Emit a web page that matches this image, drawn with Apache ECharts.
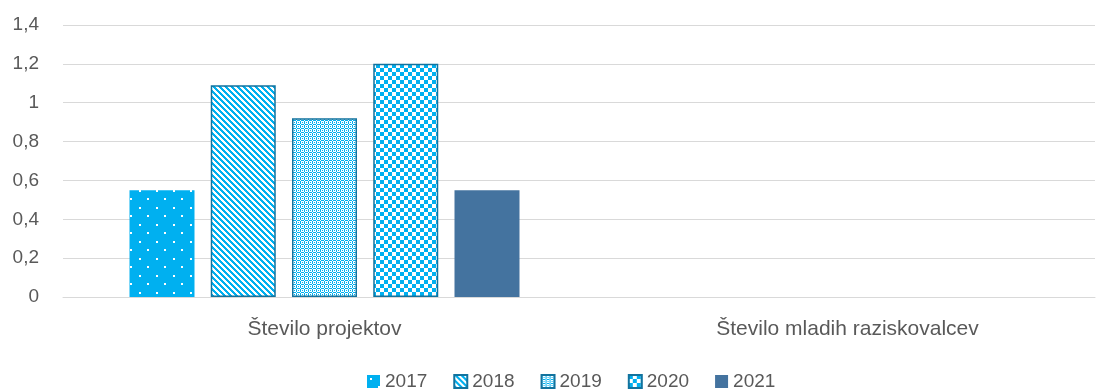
<!DOCTYPE html>
<html><head><meta charset="utf-8">
<script src="https://cdn.jsdelivr.net/npm/echarts@6/dist/echarts.min.js"></script>
<style>html,body{margin:0;padding:0;background:#fff}#c{width:1109px;height:390px}</style>
</head><body><div id="c"></div>
<script>
const categories = ['Število projektov', 'Število mladih raziskovalcev'];
const seriesNames = ['2017', '2018', '2019', '2020', '2021'];
const v2017 = [0.55, null];
const v2018 = [1.09, null];
const v2019 = [0.92, null];
const v2020 = [1.2, null];
const v2021 = [0.55, null];
const yTicks = [0, 0.2, 0.4, 0.6, 0.8, 1, 1.2, 1.4];

const BLUE = '#00B0F0', WHITE = '#ffffff';
function tile(w, h, fn) {
  const c = document.createElement('canvas'); c.width = w; c.height = h;
  const ctx = c.getContext('2d');
  for (let y = 0; y < h; y++) for (let x = 0; x < w; x++) {
    ctx.fillStyle = fn(x, y) ? BLUE : WHITE; ctx.fillRect(x, y, 1, 1);
  }
  return c;
}
const p2017 = (function(){
  const c = document.createElement('canvas'); c.width = 17; c.height = 17;
  const ctx = c.getContext('2d'); ctx.fillStyle = BLUE; ctx.fillRect(0,0,17,17);
  ctx.fillStyle = WHITE; ctx.fillRect(3,3,2,2); ctx.fillRect(11,11,2,2); return c;
})();
const p2018 = tile(6, 6, (x, y) => ((x - y + 12) % 6) < 3);
const p2019 = tile(4, 4, (x, y) => {
  const a = x % 4 === 0, b = y % 4 === 0;
  return (a !== b) || (x === 2 && y === 2);
});
const p2020 = tile(8, 8, (x, y) => ((Math.floor(x / 4) + Math.floor(y / 4)) % 2) === 0);

const pats = [p2017, p2018, p2019, p2020];
const vals = [v2017, v2018, v2019, v2020, v2021];
const series = seriesNames.map((n, i) => ({
  name: n, type: 'bar', data: vals[i], xAxisIndex: 0, yAxisIndex: 0,
  barWidth: 65, barGap: '25%',
  itemStyle: i < 4 ? {
    color: { image: pats[i], repeat: 'repeat' },
    borderColor: i === 0 ? BLUE : '#12739E', borderWidth: i === 0 ? 0 : 1.5
  } : { color: '#44739F' }
}));

const fmt = v => { const t = yTicks.find(k => Math.abs(k - v) < 1e-9); return String(+(t ?? v).toFixed(1)).replace('.', ','); };

const chart = echarts.init(document.getElementById('c'), null, { renderer: 'canvas' });
chart.setOption({
  animation: false,
  textStyle: { fontFamily: 'Liberation Sans, Arial, sans-serif' },
  grid: [
    { left: 63, top: 25, width: 1060, height: 272, containLabel: false },
    { left: 63, top: 25, right: 14, height: 272, containLabel: false, z: 0 }
  ],
  legend: {
    top: 372, left: 367, padding: 0, icon: 'rect', itemWidth: 13, itemHeight: 13, itemGap: 26,
    textStyle: { color: '#595959', fontSize: 19 },
    data: seriesNames
  },
  xAxis: [
    {
      type: 'category', data: categories, gridIndex: 0,
      axisLine: { show: false }, axisTick: { show: false },
      axisLabel: { color: '#595959', fontSize: 21, margin: 22 }
    },
    {
      type: 'value', gridIndex: 1, min: 0, max: 1, show: true,
      axisLine: { lineStyle: { color: '#d9d9d9' } }, axisTick: { show: false },
      axisLabel: { show: false }, splitLine: { show: false }
    }
  ],
  yAxis: [
    {
      type: 'value', gridIndex: 0, min: 0, max: 1.4, interval: 0.2,
      axisLine: { show: false }, axisTick: { show: false },
      splitLine: { show: false },
      axisLabel: { color: '#595959', fontSize: 19, margin: 24, formatter: fmt }
    },
    {
      type: 'value', gridIndex: 1, min: 0, max: 1.4, interval: 0.2,
      axisLine: { show: false }, axisTick: { show: false },
      axisLabel: { show: false },
      splitLine: { lineStyle: { color: '#d9d9d9', width: 1 } }
    }
  ],
  series
});
</script></body></html>
